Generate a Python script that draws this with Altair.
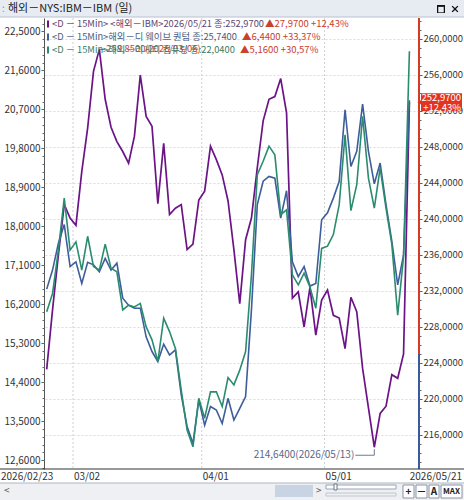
import altair as alt
import pandas as pd

# ---------------- data ----------------
dates = [d.strftime("%Y/%m/%d") for d in pd.bdate_range("2026-02-23", "2026-05-21")
         if d.strftime("%Y/%m/%d") != "2026/04/03"]

ibm = [223.3, 229.9, 236.0, 241.6, 240.1, 239.3, 245.3, 250.1, 256.4, 258.85,
       253.3, 250.2, 248.6, 247.5, 246.2, 249.2, 256.0, 251.4, 250.3, 241.7,
       248.4, 240.5, 241.2, 241.6, 236.6, 237.2, 242.1, 243.1, 248.1, 246.6,
       244.9, 242.0, 236.6, 230.6, 237.7, 240.1, 245.7, 250.9, 253.3, 253.6,
       255.6, 251.8, 231.2, 231.9, 228.0, 232.4, 227.1, 231.0, 232.1, 229.3,
       229.0, 225.6, 231.3, 229.7, 223.4, 219.0, 214.64, 218.4, 219.2, 222.7,
       222.3, 225.0, 252.97]
dwave = [16.55, 16.99, 17.61, 18.04, 17.07, 17.18, 16.68, 17.17, 17.11, 16.95,
         17.26, 16.99, 17.15, 16.34, 16.18, 16.11, 16.11, 15.45, 15.11, 14.88,
         15.28, 15.03, 15.15, 14.11, 13.38, 12.99, 13.99, 13.41, 13.84, 13.76,
         13.45, 14.03, 13.53, 13.80, 14.07, 16.07, 18.50, 19.04, 19.15, 19.11,
         18.19, 18.82, 17.18, 16.84, 17.07, 16.62, 16.68, 18.15, 18.31, 18.65,
         19.04, 20.69, 19.38, 19.73, 20.82, 19.73, 18.98, 19.46, 18.50, 17.65,
         16.65, 17.34, 20.91]
rigetti = [16.03, 16.45, 17.45, 18.65, 17.45, 17.64, 16.99, 17.77, 17.07, 16.99,
           17.59, 17.03, 16.95, 16.07, 16.18, 16.14, 16.22, 15.68, 15.38, 14.88,
           15.88, 15.57, 15.18, 14.22, 13.30, 12.91, 14.03, 13.57, 14.18, 14.18,
           13.84, 14.51, 14.34, 14.68, 15.11, 16.88, 19.19, 19.50, 19.85, 19.65,
           18.27, 18.38, 16.88, 16.65, 16.92, 16.60, 16.11, 17.49, 17.54, 17.81,
           18.50, 20.11, 18.36, 18.96, 20.54, 19.11, 18.42, 19.35, 18.42, 17.58,
           15.95, 17.30, 22.04]

series_names = ["<해외－IBM>", "해외－디 웨이브 퀀텀", "해외－리게티 컴퓨팅"]
last_close = [252.97, 25.74, 22.04]
change = [27.97, 6.44, 5.16]
change_pct = [12.43, 33.37, 30.57]
left_major = [12.6, 13.5, 14.4, 15.3, 16.2, 17.1, 18.0, 18.9, 19.8, 20.7, 21.6, 22.5]
right_major = [216, 220, 224, 228, 232, 236, 240, 244, 248, 252, 256, 260]
title_text = "해외－NYS:IBM－IBM (일)"

# ---------------- style ----------------
FONT = "Noto Sans CJK KR"
W, H = 375, 451
C_IBM, C_DW, C_RG = "#6b1387", "#3e5d9b", "#2a8c6f"
TXT = ["#5e4670", "#4b5c7c", "#3b7a66"]
RED = "#c9402c"
BAR = "#e7ecf3"
X_PATH = ("M-1,-0.72L-0.72,-1L0,-0.28L0.72,-1L1,-0.72L0.28,0L1,0.72L0.72,1"
          "L0,0.28L-0.72,1L-1,0.72L-0.28,0Z")


def kfmt(v, d=4):
    return f"{v:.{d}f}".replace(".", ",")


df = pd.DataFrame({"i": list(range(len(dates))), "date": dates,
                   "ibm": ibm, "dwave": dwave, "rigetti": rigetti})

xs = alt.Scale(domain=[-0.46, 63.64], nice=False, zero=False)
ls = alt.Scale(domain=[12.399, 22.807], nice=False, zero=False)
rs = alt.Scale(domain=[212.222, 262.333], nice=False, zero=False)
LBL = "replace(format(datum.value, '.4f'), '.', ',')"

left_minor = [round(12.42 + 0.18 * k, 2) for k in range(58) if 12.42 + 0.18 * k < 22.8]
right_minor = [v for v in range(213, 263)]

month_starts = [i for i in range(1, len(dates)) if dates[i][5:7] != dates[i - 1][5:7]]
mondays = [i for i, d in enumerate(dates)
           if i > 0 and pd.Timestamp(d.replace("/", "-")).weekday() == 0]
ticks = sorted(set(month_starts + [m for m in mondays
                                   if not any(0 < m - s < 3 for s in month_starts)]))
tick_pos = [t - 0.5 for t in ticks]
month_pos = [t - 0.5 for t in month_starts]
month_lab = [dates[t][5:] for t in month_starts]

one = pd.DataFrame({"a": [0]})
X = alt.X("i:Q", scale=xs, axis=None)


def rect(x1, x2, y1, y2, fill, stroke=None):
    kw = {"color": fill}
    if stroke:
        kw.update(stroke=stroke, strokeWidth=1)
    return alt.Chart(one).mark_rect(**kw).encode(
        x=alt.value(x1), x2=alt.value(x2), y=alt.value(y1), y2=alt.value(y2))


def seg(x1, x2, y1, y2, color="#222", w=1.2):
    return alt.Chart(one).mark_rule(color=color, strokeWidth=w).encode(
        x=alt.value(x1), x2=alt.value(x2), y=alt.value(y1), y2=alt.value(y2))


def txt(x, y, s, size=10, color="#333", align="left", weight="normal"):
    return alt.Chart(one).mark_text(font=FONT, fontSize=size, color=color, align=align,
                                    baseline="middle", text=s, fontWeight=weight).encode(
        x=alt.value(x), y=alt.value(y))


layers = []

# title bar
layers.append(rect(-44, 420, -18, -1, BAR))
layers.append(seg(-44, 420, -1, -1, "#b8c2d0", 1))
layers.append(txt(-42, -9, ":", 10, "#8a94a6"))
layers.append(txt(-36, -9, title_text, 11, "#222"))

# vertical dashed grid at month starts
layers.append(alt.Chart(pd.DataFrame({"t": month_pos})).mark_rule(
    color="#d0d0d0", strokeDash=[2, 2], strokeWidth=1).encode(
    x=alt.X("t:Q", scale=xs, axis=None), y=alt.value(0), y2=alt.value(H)))

# x axis (ticks only)
layers.append(alt.Chart(pd.DataFrame({"t": tick_pos})).mark_point(opacity=0).encode(
    x=alt.X("t:Q", scale=xs, axis=alt.Axis(values=tick_pos, labels=False, tickSize=4,
                                           tickColor="#444", domainColor="#444", zindex=0,
                                           grid=False, title=None, orient="bottom"))))

# right axis + horizontal grid (IBM)
layers.append(alt.Chart(df).mark_point(opacity=0).encode(
    x=X, y=alt.Y("ibm:Q", scale=rs, axis=alt.Axis(
        orient="right", values=right_major, labelExpr=LBL, tickSize=3, labelPadding=1,
        domain=False, grid=True, gridDash=[2, 2], gridColor="#dadada", title=None,
        tickColor="#555", labelColor="#333", labelFontSize=9.5, zindex=0))))
layers.append(alt.Chart(df).mark_point(opacity=0).encode(
    x=X, y=alt.Y("ibm:Q", scale=rs, axis=alt.Axis(
        orient="right", values=right_minor, labels=False, tickSize=2, domain=False,
        grid=False, title=None, tickColor="#666", zindex=0))))

# left axis
layers.append(alt.Chart(df).mark_point(opacity=0).encode(
    x=X, y=alt.Y("rigetti:Q", scale=ls, axis=alt.Axis(
        orient="left", values=left_major, labelExpr=LBL, tickSize=3, labelPadding=1,
        domainColor="#555", tickColor="#555", grid=False, title=None, labelColor="#333",
        zindex=0))))
layers.append(alt.Chart(df).mark_point(opacity=0).encode(
    x=X, y=alt.Y("rigetti:Q", scale=ls, axis=alt.Axis(
        orient="left", values=left_minor, labels=False, tickSize=2, domain=False,
        grid=False, title=None, tickColor="#666", zindex=0))))

# series lines
layers.append(alt.Chart(df).mark_line(color=C_IBM, strokeWidth=1.7).encode(
    x=X, y=alt.Y("ibm:Q", scale=rs, axis=None)))
layers.append(alt.Chart(df).mark_line(color=C_DW, strokeWidth=1.6).encode(
    x=X, y=alt.Y("dwave:Q", scale=ls, axis=None)))
layers.append(alt.Chart(df).mark_line(color=C_RG, strokeWidth=1.6).encode(
    x=X, y=alt.Y("rigetti:Q", scale=ls, axis=None)))

# right axis coloured line (red above previous close, blue below)
prev = pd.DataFrame({"p": [last_close[0] - change[0]]})
layers.append(alt.Chart(prev).mark_rule(color="#d63a25", strokeWidth=2).encode(
    x=alt.value(W), y=alt.Y("p:Q", scale=rs, axis=None), y2=alt.value(0)))
layers.append(alt.Chart(prev).mark_rule(color="#3a5a9c", strokeWidth=2).encode(
    x=alt.value(W), y=alt.Y("p:Q", scale=rs, axis=None), y2=alt.value(H)))

# max / min annotations
imax = ibm.index(max(ibm))
imin = ibm.index(min(ibm))
ext_max = pd.DataFrame({"i": [imax], "v": [ibm[imax]],
                        "t": [f"{kfmt(ibm[imax])}({dates[imax]})"]})
ext_min = pd.DataFrame({"i": [imin], "v": [ibm[imin]],
                        "t": [f"{kfmt(ibm[imin])}({dates[imin]})"]})
layers.append(alt.Chart(ext_max).mark_rule(color=RED, strokeWidth=1, x2Offset=6).encode(
    x=X, x2="i:Q", y=alt.Y("v:Q", scale=rs, axis=None)))
layers.append(alt.Chart(ext_max).mark_text(color=RED, font=FONT, fontSize=9.4, align="left",
                                           baseline="middle", dx=7).encode(
    x=X, y=alt.Y("v:Q", scale=rs, axis=None), text="t:N"))
layers.append(alt.Chart(ext_min).mark_rule(color="#6c7a96", strokeWidth=1, yOffset=2,
                                           y2Offset=8).encode(
    x=X, y=alt.Y("v:Q", scale=rs, axis=None), y2="v:Q"))
layers.append(alt.Chart(ext_min).mark_rule(color="#6c7a96", strokeWidth=1, yOffset=8,
                                           x2Offset=-19).encode(
    x=X, x2="i:Q", y=alt.Y("v:Q", scale=rs, axis=None)))
layers.append(alt.Chart(ext_min).mark_text(color="#5a6888", font=FONT, fontSize=10,
                                           align="right", baseline="middle", dx=-20,
                                           dy=8).encode(
    x=X, y=alt.Y("v:Q", scale=rs, axis=None), text="t:N"))

# current price box on right axis
lastdf = pd.DataFrame({"v": [last_close[0]], "a": [kfmt(last_close[0])],
                       "b": [f"+{kfmt(change_pct[0], 2)}%"]})
layers.append(alt.Chart(lastdf).transform_calculate(hi="datum.v + 1.0", lo="datum.v - 1.0")
              .mark_rect(color="#e23420").encode(
    x=alt.value(W + 2), x2=alt.value(W + 43),
    y=alt.Y("hi:Q", scale=rs, axis=None), y2="lo:Q"))
layers.append(alt.Chart(lastdf).mark_point(shape="triangle-left", filled=True, size=40,
                                           color="#e23420", opacity=1).encode(
    x=alt.value(W + 1), y=alt.Y("v:Q", scale=rs, axis=None)))
layers.append(alt.Chart(lastdf).mark_text(color="white", font=FONT, fontSize=9.5,
                                          align="right", baseline="middle", dy=-4).encode(
    x=alt.value(W + 42), y=alt.Y("v:Q", scale=rs, axis=None), text="a:N"))
layers.append(alt.Chart(lastdf).mark_text(color="white", font=FONT, fontSize=9.5,
                                          align="right", baseline="middle", dy=5.5).encode(
    x=alt.value(W + 42), y=alt.Y("v:Q", scale=rs, axis=None), text="b:N"))

# legend lines
line_cols = [C_IBM, C_DW, C_RG]
a_texts = [f"<D － 15Min> {series_names[0]}{dates[-1]} 종:{kfmt(last_close[0])}",
           f"<D － 15Min>{series_names[1]} 종:{kfmt(last_close[1])}",
           f"<D － 15Min>{series_names[2]} 종:{kfmt(last_close[2])}"]
b_x = [221, 198, 196]
for k in range(3):
    yc = 6 + 13 * k
    layers.append(alt.Chart(one).mark_rect(color=line_cols[k]).encode(
        x=alt.value(3), x2=alt.value(5), y=alt.value(yc - 3.5), y2=alt.value(yc + 3.5)))
    layers.append(alt.Chart(one).mark_text(color=TXT[k], font=FONT, fontSize=9.3,
                                           align="left", baseline="middle",
                                           text=a_texts[k]).encode(
        x=alt.value(8), y=alt.value(yc)))
    layers.append(alt.Chart(one).mark_text(color=RED, font=FONT, fontSize=9.5,
                                           align="left", baseline="middle",
                                           text=f"▲{kfmt(change[k])} +{kfmt(change_pct[k], 2)}%").encode(
        x=alt.value(b_x[k]), y=alt.value(yc)))

# x labels
layers.append(alt.Chart(pd.DataFrame({"t": month_pos, "l": month_lab})).mark_text(
    font=FONT, fontSize=10, color="#333", align="left", baseline="middle", dx=1).encode(
    x=alt.X("t:Q", scale=xs, axis=None), y=alt.value(H + 8), text="l:N"))
layers.append(alt.Chart(one).mark_text(font=FONT, fontSize=10, color="#333", align="left",
                                       baseline="middle", text=dates[0]).encode(
    x=alt.value(-43), y=alt.value(H + 8)))
layers.append(alt.Chart(one).mark_text(font=FONT, fontSize=10, color="#333", align="right",
                                       baseline="middle", text=dates[-1]).encode(
    x=alt.value(W + 43), y=alt.value(H + 8)))

# bottom separator and scroll bar
layers.append(seg(-44, 420, H, H, "#333", 1))
layers.append(rect(-44, 420, H + 14, H + 31, "#eef0f3"))
layers.append(seg(-44, 420, H + 14, H + 14, "#b0b6c0", 1))
layers.append(txt(-40, H + 22, "<", 10, "#555"))
layers.append(rect(231, 269, H + 16, H + 28, "#c8d3e3"))
layers.append(txt(272, H + 22, ">", 10, "#555"))
layers.append(rect(282, 352, H + 16, H + 20, "#ffffff", "#9aa4b4"))
layers.append(rect(290, 293, H + 15, H + 21, "#ffffff", "#6a7488"))
layers.append(rect(282, 352, H + 24, H + 27, "#eef0f3", "#c0c6d0"))
for x1, x2, s in [(359, 370, "+"), (372, 383, "－"), (385, 395, "A"), (397, 418, "MAX")]:
    layers.append(rect(x1, x2, H + 16, H + 29, "#ffffff", "#8a94a6"))
    layers.append(txt((x1 + x2) / 2, H + 22.5, s, 8 if s == "MAX" else 10, "#222",
                      "center", "bold"))

# window buttons: maximise box and close cross (filled symbols, as in the working test)
for x, y, shape, size, c in [(397, -9, "square", 64, "#111"),
                             (397, -8.4, "square", 30, BAR),
                             (411, -9, X_PATH, 45, "#111")]:
    layers.append(alt.Chart(one).mark_point(shape=shape, filled=True, size=size, color=c,
                                            opacity=1).encode(
        x=alt.value(x), y=alt.value(y)))

chart = alt.layer(*layers).resolve_scale(y="independent").properties(
    width=W, height=H,
    padding={"left": 44, "top": 18, "right": 45, "bottom": 31},
    autosize=alt.AutoSizeParams(type="none"),
).configure(background="#ffffff").configure_view(stroke=None).configure_axis(
    labelFont=FONT, labelFontSize=10)

chart.save("out.html", embed_options={"renderer": "svg", "actions": False})
